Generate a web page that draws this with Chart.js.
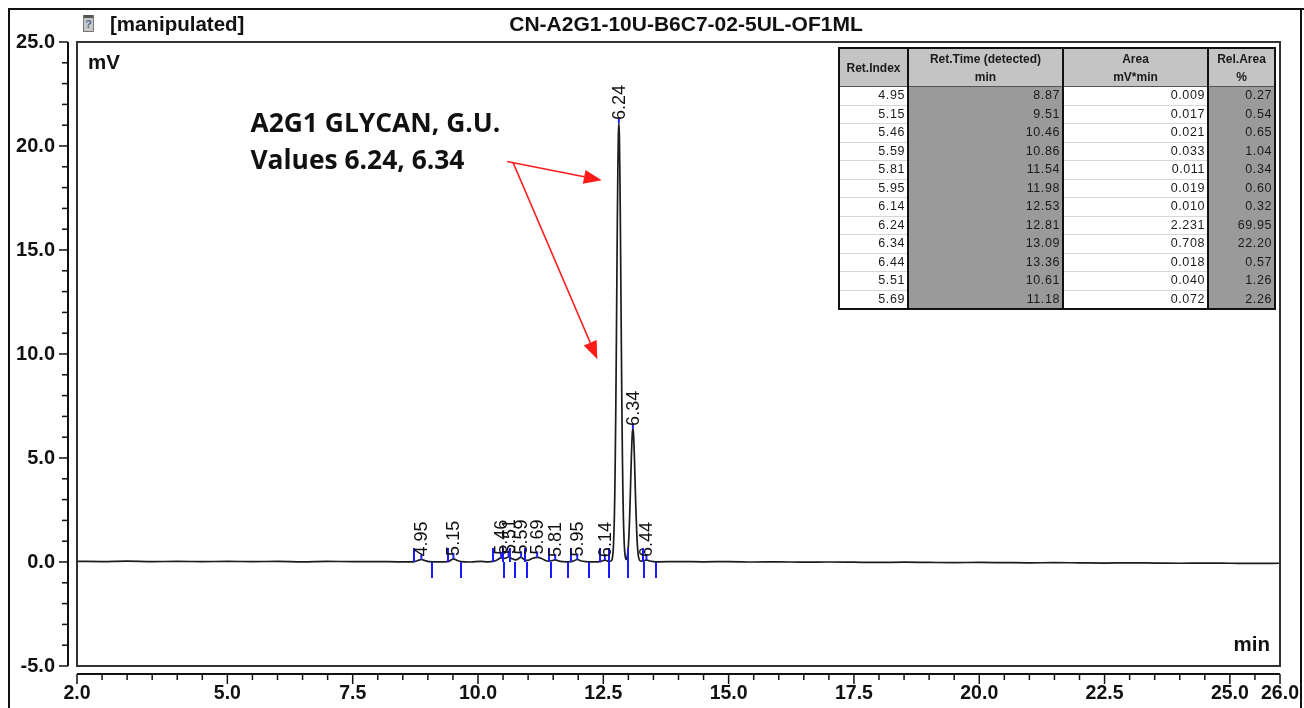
<!DOCTYPE html>
<html><head><meta charset="utf-8">
<script src="https://cdn.jsdelivr.net/npm/chart.js@4.4.1/dist/chart.umd.min.js"></script>
<style>
html,body{margin:0;padding:0;background:#fff;}
#wrap{position:relative;width:1304px;height:708px;overflow:hidden;background:#fff;}
#c{position:absolute;left:0;top:0;}
#tbl{position:absolute;left:838px;top:47px;border-collapse:collapse;table-layout:fixed;border:2px solid #111;font-family:"Liberation Sans",Arial,sans-serif;color:#1a1a1a;}
#tbl th{background:#c4c4c4;font-weight:bold;font-size:12px;line-height:18px;height:37px;padding:0;text-align:center;border:1px solid #555;border-left:2px solid #111;vertical-align:middle;}
#tbl th:first-child{border-left:none;}
#tbl td{font-size:12.5px;height:17.5px;line-height:17px;padding:0 2px 0 0;text-align:right;letter-spacing:0.6px;border-left:2px solid #111;border-bottom:1px solid #d6d6d6;}
#tbl td:first-child{border-left:none;}
#tbl td.g{background:#9a9a9a;border-bottom:1px solid #9a9a9a;}
#tbl tr:last-child td{border-bottom:none;}
</style></head><body>
<div id="wrap"><canvas id="c" width="1304" height="708"></canvas><table id="tbl"></table></div>
<script>
// ---- chromatogram trace ----
const timeMin = [2.00,2.50,3.00,3.50,4.00,4.50,5.00,5.50,6.00,6.50,7.00,7.50,8.00,8.40,
 8.72,8.80,8.87,8.94,9.02,9.20,9.40,9.46,9.51,9.57,9.66,9.85,10.05,10.20,
 10.30,10.38,10.46,10.53,10.61,10.68,10.75,10.86,10.94,11.00,11.08,11.18,11.28,11.36,11.42,11.48,11.54,11.62,11.70,11.80,11.90,11.98,12.06,12.15,12.30,12.44,12.49,12.53,12.58,12.62,12.66,
 12.68,12.70,12.72,12.73,12.74,12.75,12.76,12.77,12.78,12.79,12.80,12.81,12.82,12.83,12.84,12.85,12.86,12.87,12.88,12.89,12.90,12.92,12.94,12.96,12.98,
 13.00,13.02,13.04,13.05,13.06,13.07,13.08,13.09,13.10,13.11,13.12,13.13,13.14,13.15,13.17,13.19,13.21,13.24,13.30,13.36,13.42,13.50,13.60,
 14.0,14.5,15.0,15.5,16.0,16.5,17.0,17.5,18.0,18.5,19.0,19.5,20.0,20.5,21.0,21.5,22.0,22.5,23.0,23.5,24.0,24.5,25.0,25.5,26.0];
const signalMV = [0.03,0.02,0.04,0.02,0.03,0.02,0.03,0.02,0.03,0.01,0.03,0.02,0.02,0.01,
 0.01,0.07,0.12,0.07,0.02,0.01,0.02,0.09,0.15,0.09,0.02,0.00,0.03,0.01,
 0.03,0.10,0.20,0.17,0.24,0.16,0.10,0.22,0.09,0.08,0.17,0.22,0.16,0.06,0.04,0.07,0.10,0.04,0.02,0.01,0.04,0.12,0.05,0.02,0.01,0.02,0.06,0.09,0.05,0.03,0.06,
 0.18,0.68,2.1,3.4,5.3,7.6,10.4,13.4,16.4,18.8,20.5,21.1,20.5,18.8,16.4,13.4,10.4,7.6,5.3,3.5,2.2,0.75,0.22,0.12,0.29,
 0.79,1.81,3.36,4.23,5.07,5.77,6.24,6.40,6.24,5.77,5.07,4.23,3.36,2.53,1.23,0.48,0.16,0.05,0.04,0.10,0.05,0.02,0.01,
 0.02,0.01,0.02,0.00,0.01,-0.01,0.00,-0.01,-0.02,-0.01,-0.02,-0.03,-0.02,-0.03,-0.04,-0.03,-0.04,-0.05,-0.04,-0.05,-0.06,-0.05,-0.06,-0.07,-0.06];

// ---- detected peaks (sorted by retention time) ----
const peakLabel = ['4.95','5.15','5.46','5.51','5.59','5.69','5.81','5.95','6.14','6.24','6.34','6.44'];
const peakRT    = [8.87,9.51,10.46,10.61,10.86,11.18,11.54,11.98,12.53,12.81,13.09,13.36];
const peakApex  = [0.12,0.15,0.20,0.24,0.22,0.22,0.10,0.12,0.09,21.1,6.40,0.10];
const peakStart = [8.72,9.40,10.30,10.50,10.64,10.94,11.42,11.86,12.44,12.62,13.00,13.30];
const peakEnd   = [9.08,9.66,10.52,10.74,10.98,11.46,11.80,12.22,12.62,13.00,13.32,13.56];

// ---- axes ----
const xMajorTicks = [2.0,5.0,7.5,10.0,12.5,15.0,17.5,20.0,22.5,25.0,26.0];
const yMajorTicks = [-5,0,5,10,15,20,25];

// ---- peak table ----
const tblRetIndex = ['4.95','5.15','5.46','5.59','5.81','5.95','6.14','6.24','6.34','6.44','5.51','5.69'];
const tblRetTime  = ['8.87','9.51','10.46','10.86','11.54','11.98','12.53','12.81','13.09','13.36','10.61','11.18'];
const tblArea     = ['0.009','0.017','0.021','0.033','0.011','0.019','0.010','2.231','0.708','0.018','0.040','0.072'];
const tblRelArea  = ['0.27','0.54','0.65','1.04','0.34','0.60','0.32','69.95','22.20','0.57','1.26','2.26'];

// ---- texts ----
const headerTag = '[manipulated]';
const chartTitle = 'CN-A2G1-10U-B6C7-02-5UL-OF1ML';
const noteLines = ['A2G1 GLYCAN, G.U.','Values 6.24, 6.34'];
// annotation anchor points in data units [min, mV]
const noteAnchor = [5.46, 20.65];
const arrowFrom = [[10.58,19.25],[10.70,19.2]];
const arrowTo   = [[12.47,18.35],[12.38,9.75]];

// build table
(function(){
  const t = document.getElementById('tbl');
  let h = '<colgroup><col style="width:69px"><col style="width:155px"><col style="width:145px"><col style="width:67px"></colgroup>';
  h += '<tr><th>Ret.Index</th><th>Ret.Time (detected)<br>min</th><th>Area<br>mV*min</th><th>Rel.Area<br>%</th></tr>';
  for (let i=0;i<tblRetIndex.length;i++){
    h += '<tr><td>'+tblRetIndex[i]+'</td><td class="g">'+tblRetTime[i]+'</td><td>'+tblArea[i]+'</td><td class="g">'+tblRelArea[i]+'</td></tr>';
  }
  t.innerHTML = h;
})();

const SANS = '"Liberation Sans", Arial, sans-serif';

function fitFont(ctx, text, weight, family, width){
  ctx.font = weight+' 40px '+family;
  const w = ctx.measureText(text).width;
  return 40*width/w;
}

const decor = {
  id:'decor',
  beforeDraw(chart){
    const ctx = chart.ctx;
    ctx.save(); ctx.fillStyle='#fff'; ctx.fillRect(0,0,chart.width,chart.height); ctx.restore();
  },
  afterDraw(chart){
    const {ctx, chartArea:ca, scales:{x,y}} = chart;
    ctx.save();
    // outer frame
    ctx.strokeStyle='#111'; ctx.lineWidth=2;
    ctx.beginPath(); ctx.moveTo(9,708); ctx.lineTo(9,9); ctx.lineTo(1304,9); ctx.stroke();
    ctx.beginPath(); ctx.moveTo(1301,9); ctx.lineTo(1301,708); ctx.stroke();
    // plot frame
    ctx.strokeStyle='#333'; ctx.lineWidth=2;
    ctx.strokeRect(ca.left, ca.top, ca.right-ca.left, ca.bottom-ca.top);
    // y axis line & ticks
    const yAx = ca.left-9;
    ctx.strokeStyle='#111'; ctx.lineWidth=2;
    ctx.beginPath(); ctx.moveTo(yAx, y.getPixelForValue(25)); ctx.lineTo(yAx, y.getPixelForValue(-5)); ctx.stroke();
    ctx.lineWidth=1.5;
    for (let v=-5; v<=25; v+=1){
      const p = y.getPixelForValue(v);
      const major = yMajorTicks.includes(v);
      ctx.beginPath(); ctx.moveTo(yAx-(major?9:6), p); ctx.lineTo(yAx, p); ctx.stroke();
    }
    // x axis line & ticks
    const xAx = ca.bottom+8;
    ctx.lineWidth=2;
    ctx.beginPath(); ctx.moveTo(x.getPixelForValue(2), xAx); ctx.lineTo(x.getPixelForValue(26), xAx); ctx.stroke();
    ctx.lineWidth=1.5;
    for (let v=2; v<=26.001; v+=0.5){
      const p = x.getPixelForValue(v);
      const major = xMajorTicks.some(m=>Math.abs(m-v)<1e-6);
      ctx.beginPath(); ctx.moveTo(p, xAx); ctx.lineTo(p, xAx+(major?10:6)); ctx.stroke();
    }
    // header
    ctx.fillStyle='#111';
    ctx.textBaseline='middle'; ctx.textAlign='left';
    ctx.font='bold 20.5px '+SANS;
    ctx.fillText(headerTag, 110, 25);
    ctx.textAlign='center';
    ctx.font='bold 21px '+SANS;
    ctx.fillText(chartTitle, 686, 25);
    // icon
    ctx.fillStyle='#c8c8c8'; ctx.fillRect(83,15,11,17);
    ctx.strokeStyle='#777'; ctx.lineWidth=1; ctx.strokeRect(83.5,15.5,10,16);
    ctx.fillStyle='#555'; ctx.fillRect(84,15,9,3);
    ctx.fillStyle='#4a6a9a'; ctx.font='bold 11px '+SANS; ctx.textAlign='center';
    ctx.fillText('?', 88.5, 25);
    // unit labels
    ctx.fillStyle='#111'; ctx.font='bold 20.5px '+SANS;
    ctx.textAlign='left'; ctx.fillText('mV', ca.left+11, 63);
    ctx.textAlign='right'; ctx.fillText('min', ca.right-10, 645);
    // peak start/end markers
    ctx.strokeStyle='#1a1aff'; ctx.lineWidth=2;
    const y0 = y.getPixelForValue(0);
    peakStart.forEach(t=>{ const p=Math.round(x.getPixelForValue(t)); ctx.beginPath(); ctx.moveTo(p, y0-14); ctx.lineTo(p, y0); ctx.stroke(); });
    peakEnd.forEach(t=>{ const p=Math.round(x.getPixelForValue(t)); ctx.beginPath(); ctx.moveTo(p, y0); ctx.lineTo(p, y0+16); ctx.stroke(); });
    // apex markers and labels
    ctx.font='18px '+SANS;
    for (let i=0;i<peakRT.length;i++){
      const px = x.getPixelForValue(peakRT[i]);
      const py = y.getPixelForValue(peakApex[i]);
      ctx.strokeStyle='#2222ff'; ctx.lineWidth=2;
      ctx.beginPath(); ctx.moveTo(px, py-6); ctx.lineTo(px, py); ctx.stroke();
      ctx.save();
      ctx.translate(px+1, py-3); ctx.rotate(-Math.PI/2);
      ctx.fillStyle='#111'; ctx.textAlign='left'; ctx.textBaseline='middle';
      ctx.fillText(peakLabel[i], 0, 0);
      ctx.restore();
    }
    // annotation text
    const NOTE = '"Open Sans", "Noto Sans", sans-serif';
    const fs = fitFont(ctx, noteLines[0], 'bold', NOTE, 250);
    ctx.font = 'bold '+fs.toFixed(1)+'px '+NOTE;
    ctx.fillStyle='#111'; ctx.textAlign='left'; ctx.textBaseline='alphabetic';
    const nx = x.getPixelForValue(noteAnchor[0]), ny = y.getPixelForValue(noteAnchor[1]);
    ctx.fillText(noteLines[0], nx, ny);
    ctx.fillText(noteLines[1], nx, ny+37);
    // arrows
    ctx.strokeStyle='#ff1a1a'; ctx.fillStyle='#ff1a1a'; ctx.lineWidth=1.5;
    for (let i=0;i<arrowFrom.length;i++){
      const x1=x.getPixelForValue(arrowFrom[i][0]), y1=y.getPixelForValue(arrowFrom[i][1]);
      const x2=x.getPixelForValue(arrowTo[i][0]),   y2=y.getPixelForValue(arrowTo[i][1]);
      const a=Math.atan2(y2-y1,x2-x1), L=18, W=7;
      const bx=x2-L*Math.cos(a), by=y2-L*Math.sin(a);
      ctx.beginPath(); ctx.moveTo(x1,y1); ctx.lineTo(bx,by); ctx.stroke();
      ctx.beginPath(); ctx.moveTo(x2,y2);
      ctx.lineTo(bx+W*Math.sin(a), by-W*Math.cos(a));
      ctx.lineTo(bx-W*Math.sin(a), by+W*Math.cos(a));
      ctx.closePath(); ctx.fill();
    }
    ctx.restore();
  }
};

const points = timeMin.map((t,i)=>({x:t, y:signalMV[i]}));

new Chart(document.getElementById('c'), {
  type:'line',
  data:{ datasets:[{ data:points, borderColor:'#1c1c1c', borderWidth:1.7, pointRadius:0, fill:false, cubicInterpolationMode:'monotone' }] },
  options:{
    responsive:false, animation:false, devicePixelRatio:1,
    layout:{ padding:{ left:8, right:24, top:42, bottom:8 } },
    plugins:{ legend:{display:false}, tooltip:{enabled:false}, title:{display:false} },
    scales:{
      x:{ type:'linear', min:2, max:26,
          afterBuildTicks:(s)=>{ s.ticks = xMajorTicks.map(v=>({value:v})); },
          afterFit:(s)=>{ s.height = 34; s.paddingLeft = 0; s.paddingRight = 0; },
          grid:{display:false, drawTicks:false}, border:{display:false},
          ticks:{ autoSkip:false, maxRotation:0, minRotation:0, padding:16, color:'#111',
                  font:{family:SANS, size:19.5, weight:'bold'}, callback:(v)=>Number(v).toFixed(1) } },
      y:{ type:'linear', min:-5, max:25,
          afterBuildTicks:(s)=>{ s.ticks = yMajorTicks.map(v=>({value:v})); },
          afterFit:(s)=>{ s.width = 69; s.paddingTop = 0; s.paddingBottom = 0; },
          grid:{display:false, drawTicks:false}, border:{display:false},
          ticks:{ autoSkip:false, padding:22, color:'#111',
                  font:{family:SANS, size:20, weight:'bold'}, callback:(v)=>Number(v).toFixed(1) } }
    }
  },
  plugins:[decor]
});
</script>
</body></html>
